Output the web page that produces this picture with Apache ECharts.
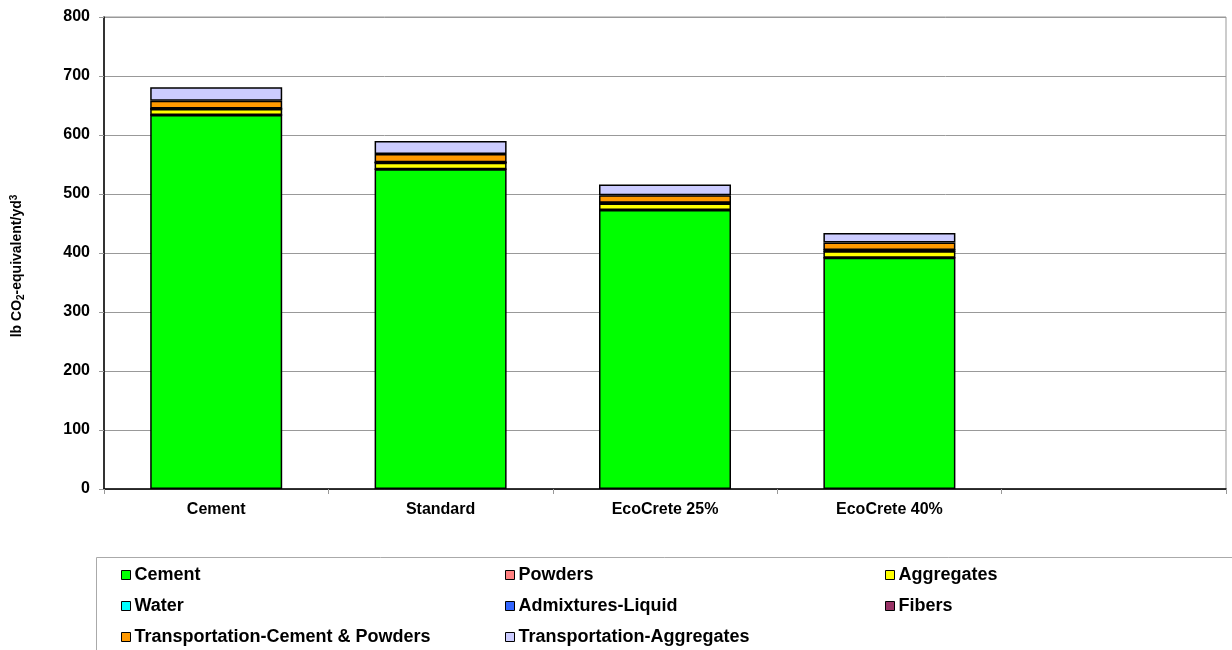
<!DOCTYPE html>
<html>
<head>
<meta charset="utf-8">
<script src="https://cdn.jsdelivr.net/npm/echarts@6/dist/echarts.min.js"></script>
<style>
  html, body { margin: 0; padding: 0; background: #fff; }
  #main { width: 1232px; height: 650px; }
</style>
</head>
<body>
<div id="main"></div>
<script>
// categories (last slot is empty, like the original sheet)
var mixes = ['Cement', 'Standard', 'EcoCrete 25%', 'EcoCrete 40%', ''];
var yTicks = [0, 100, 200, 300, 400, 500, 600, 700, 800];

// lb CO2-eq per yd3
var cement      = [634, 542, 473, 392];
var powders     = [0, 0, 0, 0];
var aggregates  = [10, 11, 11, 11];
var water       = [0, 0, 0, 0];
var admixtures  = [1, 1, 1, 2];
var fibers      = [0, 0, 0, 0];
var transCement = [13, 14, 13, 13];
var transAgg    = [23, 22, 18, 16];

var names = ['Cement', 'Powders', 'Aggregates', 'Water', 'Admixtures-Liquid', 'Fibers',
  'Transportation-Cement & Powders', 'Transportation-Aggregates'];
var values = [cement, powders, aggregates, water, admixtures, fibers, transCement, transAgg];
var colors = ['#00ff00', '#ff8080', '#ffff00', '#00ffff', '#3366ff', '#993366', '#ff9900', '#ccccff'];

var font = 'Arial, "Liberation Sans", sans-serif';

var series = names.map(function (n, i) {
  return {
    name: n,
    type: 'bar',
    stack: 'total',
    barWidth: 132,
    data: values[i],
    itemStyle: { color: colors[i], borderColor: '#000', borderWidth: 1.5 },
    emphasis: { disabled: true }
  };
});

// one vertical legend per column, the sheet lays them out 3 across
function legendCol(x, items) {
  return {
    orient: 'vertical',
    left: x,
    top: 566,
    padding: 0,
    itemWidth: 9,
    itemHeight: 9,
    itemGap: 13,
    icon: 'rect',
    selectedMode: false,
    data: items.map(function (n) {
      return { name: n, itemStyle: { borderColor: '#000', borderWidth: 1 } };
    }),
    textStyle: { fontFamily: font, fontWeight: 'bold', fontSize: 18, color: '#000', lineHeight: 18, padding: [0, 0, 0, -1] }
  };
}

var chart = echarts.init(document.getElementById('main'));
chart.setOption({
  animation: false,
  backgroundColor: '#fff',
  grid: { left: 104, right: 6, top: 17, bottom: 161, show: true, borderColor: '#999', borderWidth: 1 },
  xAxis: {
    type: 'category',
    data: mixes,
    axisLine: { lineStyle: { color: '#000', width: 1.5 } },
    axisTick: { show: true, length: 5, lineStyle: { color: '#999' } },
    axisLabel: { margin: 13, fontFamily: font, fontWeight: 'bold', fontSize: 16, color: '#000' }
  },
  yAxis: {
    type: 'value',
    min: yTicks[0],
    max: yTicks[yTicks.length - 1],
    interval: 100,
    name: '{t|lb CO}{s|2}{t|-equivalent/yd}{u|3}',
    nameLocation: 'middle',
    nameGap: 78,
    nameRotate: 90,
    nameTextStyle: {
      padding: [0, 26, 0, 0],
      rich: {
        t: { fontFamily: font, fontWeight: 'bold', fontSize: 14, color: '#000' },
        s: { fontFamily: font, fontWeight: 'bold', fontSize: 10, color: '#000', padding: [8, 0, 0, 0] },
        u: { fontFamily: font, fontWeight: 'bold', fontSize: 10, color: '#000', padding: [0, 0, 6, 0] }
      }
    },
    axisLine: { show: true, lineStyle: { color: '#000', width: 1.5 } },
    axisTick: { show: true, length: 5, lineStyle: { color: '#999' } },
    axisLabel: { margin: 14, fontFamily: font, fontWeight: 'bold', fontSize: 16, color: '#000' },
    splitLine: { lineStyle: { color: '#999', width: 1 } }
  },
  legend: [
    legendCol(121, ['Cement', 'Water', 'Transportation-Cement & Powders']),
    legendCol(505, ['Powders', 'Admixtures-Liquid', 'Transportation-Aggregates']),
    legendCol(885, ['Aggregates', 'Fibers'])
  ],
  graphic: [{
    type: 'rect',
    shape: { x: 96.5, y: 557.5, width: 1200, height: 120 },
    style: { fill: 'none', stroke: '#aaa', lineWidth: 1 },
    silent: true
  }],
  series: series
});
</script>
</body>
</html>
